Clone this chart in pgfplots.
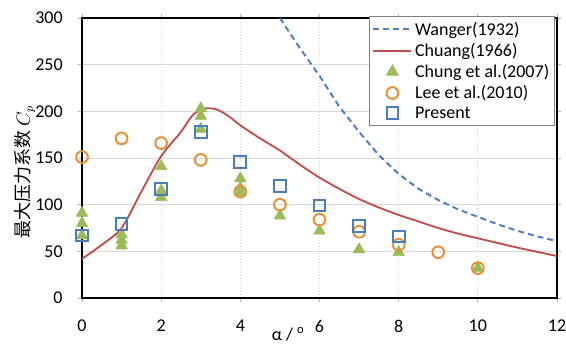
\documentclass[border=0pt]{standalone}
\usepackage{fontspec}
\setmainfont{Carlito}
\newfontfamily\cjk{Noto Sans CJK SC}
\usepackage{pgfplots}
\pgfplotsset{compat=1.18}
\definecolor{wblue}{HTML}{4F81BD}
\definecolor{cred}{HTML}{C0504D}
\definecolor{cgreen}{HTML}{9BBB59}
\definecolor{lorange}{HTML}{E8913A}
\definecolor{pblue}{HTML}{4A7EBB}
\pgfplotsset{
 marklegend/.style={legend image code/.code={\draw[##1] plot coordinates {(0.5cm,0cm)};}},
 linelegend/.style={legend image code/.code={\draw[##1] (0cm,0cm) -- (1cm,0cm);}},
}
\begin{document}
\begin{tikzpicture}
\begin{axis}[
 scale only axis, width=356.25pt, height=210pt,
 xmin=0, xmax=12, ymin=0, ymax=300,
 xtick={0,2,...,12}, ytick={0,50,...,300},
 font=\fontsize{13.5}{16}\selectfont,
 /pgf/number format/assume math mode=true,
 axis line style={line width=1.5pt, black},
 tick align=outside, major tick length=3pt,
 tick style={gray!60, line width=0.6pt},
 xmajorgrids, ymajorgrids,
 major x grid style={gray!35, dotted, line width=0.6pt},
 major y grid style={gray!30, line width=0.6pt},
 xticklabel style={yshift=-10pt},
 yticklabel style={xshift=-8pt},
 xlabel={α / \textsuperscript{o}},
 xlabel style={at={(axis description cs:0.434,-0.128)}, anchor=center},
 ylabel={{\cjk 最大压力系数} $C_p$},
 ylabel style={at={(axis description cs:-0.12,0.45)}, anchor=center},
 legend style={at={(0.996,1.007)}, anchor=north east, draw=gray, line width=0.8pt,
   fill=white, font=\fontsize{13.5}{16}\selectfont, row sep=0.5pt, inner sep=2pt,
   cells={anchor=west}},
]
\addplot[wblue, line width=1.5pt, dash pattern=on 4.5pt off 3pt, linelegend] coordinates {
 (5.0,300) (5.5,268) (6,238) (6.5,205) (7,178) (7.5,153) (8,133) (8.5,117)
 (9,105) (9.5,95) (10,87) (10.5,79) (11,72) (11.5,66) (12,61)};
\addlegendentry{Wanger(1932)}
\addplot[cred, line width=1.4pt, smooth, linelegend] coordinates {
 (0,42) (0.5,57) (1,75) (1.5,114) (2,152) (2.5,178) (2.8,196) (3.1,203) (3.4,202)
 (3.7,195) (4,185) (4.5,171) (5,158) (5.5,143) (6,129) (6.5,117) (7,106)
 (7.5,97) (8,89) (8.5,82) (9,75) (9.5,69) (10,64) (11,54) (12,45)};
\addlegendentry{Chuang(1966)}
\addplot[only marks, mark=triangle*, mark size=5pt, color=cgreen, fill=cgreen, marklegend] coordinates {
 (0,91) (0,80) (0,67) (1,68) (1,62) (1,56) (2,141) (2,115) (2,108)
 (3,203) (3,195) (3,181) (4,128) (4,118) (4,113) (5,88) (6,72) (7,52) (8,49) (10,32)};
\addlegendentry{Chung et al.(2007)}
\addplot[only marks, mark=o, mark size=4.4pt, color=lorange, line width=1.5pt, marklegend] coordinates {
 (0,151) (1,171) (2,166) (3,148) (4,114) (5,100) (6,84) (7,71) (8,57) (9,49) (10,32)};
\addlegendentry{Lee et al.(2010)}
\addplot[only marks, mark=square, mark size=4.4pt, color=pblue, line width=1.5pt, marklegend] coordinates {
 (0,67) (1,79) (2,117) (3,178) (4,146) (5,120) (6,99) (7,77) (8,66)};
\addlegendentry{Present}
\end{axis}
\pgfresetboundingbox
\path (current axis.south west) ++(-61.5pt,-34.5pt) rectangle ([shift={(6.75pt,13.5pt)}]current axis.north east);
\end{tikzpicture}
\end{document}
